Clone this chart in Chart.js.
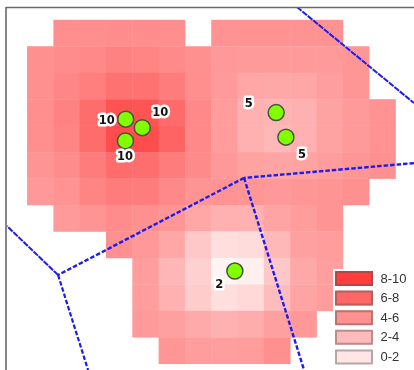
<!DOCTYPE html>
<html><head><meta charset="utf-8">
<style>html,body{margin:0;padding:0;background:#fff}#w{width:414px;height:370px;position:relative}</style>
<script src="https://cdn.jsdelivr.net/npm/chart.js@4/dist/chart.umd.min.js"></script>
</head><body><div id="w"><canvas id="c" width="414" height="370"></canvas></div>
<script>
// Grid density values (0-10), one row per list, null = no data. Columns 0..13.
const _ = null;
const gridRows = [
 [_,5.1,5.1,5.2,5.2,5.1,_,4.95,4.95,4.95,4.95,4.95,_,_],
 [5.05,5.24,5.43,5.71,5.62,5.33,5.05,4.67,4.57,4.57,4.57,4.57,4.76,_],
 [5.05,5.52,5.9,6.48,6.48,6.0,5.14,4.57,4.0,3.9,4.0,4.38,4.76,_],
 [5.14,5.71,6.76,8.0,7.9,6.86,5.43,4.48,3.5,3.33,3.5,4.19,4.57,4.95],
 [5.14,5.62,6.76,8.29,8.29,7.14,5.43,4.48,3.5,3.14,3.5,4.19,4.57,4.95],
 [4.86,5.24,6.0,6.76,6.67,6.0,5.33,4.67,4.19,4.1,4.19,4.48,4.76,5.05],
 [4.67,4.95,5.62,6.0,6.0,5.43,4.86,4.95,4.76,4.67,4.76,4.86,5.05,_],
 [_,4.57,4.86,5.24,5.05,4.76,4.0,3.5,3.5,4.1,4.48,4.86,_,_],
 [_,_,_,5.05,4.67,4.0,2.38,1.33,1.43,3.14,4.29,4.48,_,_],
 [_,_,_,_,4.48,3.24,2.0,0.29,0.48,2.38,3.9,4.38,_,_],
 [_,_,_,_,4.48,3.5,2.19,1.33,1.6,2.95,4.1,4.48,_,_],
 [_,_,_,_,4.57,4.29,3.8,3.5,3.7,4.29,4.67,_,_,_],
 [_,_,_,_,_,4.76,4.48,4.38,4.48,5.05,_,_,_,_]
];
// Sites and their labels, in grid units
const siteX = [3.74,4.37,3.73,9.46,9.83,7.89];
const siteY = [3.75,4.07,4.57,3.5,4.43,9.49];
const siteLabels = ['10','10','10','5','5','2'];
const labelX = [3.02,5.05,3.71,8.42,10.44,7.30];
const labelY = [3.81,3.53,5.19,3.18,5.10,10.02];
// Polygon edges, in grid units
const edgeA = [{x:10.25,y:-0.49},{x:14.70,y:3.14}];
const edgeB = [{x:14.70,y:5.41},{x:8.24,y:5.97}];
const edgeC = [{x:8.24,y:5.97},{x:1.17,y:9.64}];
const edgeD = [{x:8.24,y:5.97},{x:10.52,y:13.23}];
const edgeE = [{x:1.17,y:9.64},{x:-0.77,y:7.79}];
const edgeF = [{x:1.17,y:9.64},{x:2.31,y:13.23}];
const frameTop = [{x:-0.81,y:-0.47},{x:14.70,y:-0.47}];
const frameLeft = [{x:-0.81,y:-0.49},{x:-0.81,y:13.23}];
const legendLabels = ['8-10','6-8','4-6','2-4','0-2'];
const legendValues = [9,7,5,3,1];

const gridG = v => Math.round(250 - 21 * v);
const gridColor = v => `rgb(255,${gridG(v)},${gridG(v)})`;
const cells = [];
gridRows.forEach((row, r) => row.forEach((v, c) => { if (v !== null) cells.push({x:c+0.5, y:r+0.5, v}); }));
const edgeDs = (d, dash, w) => ({type:'line', data:d, borderColor:'#1c1cf0', borderWidth:w, borderDash:dash, pointRadius:0, fill:false, tension:0, order:2});
const frameDs = d => ({type:'line', data:d, borderColor:'#6a6a6a', borderWidth:1.6, pointRadius:0, fill:false, tension:0, clip:false, order:0});

const overlay = {
  id:'overlay',
  afterDatasetsDraw(ch){
    const {ctx, scales:{x,y}} = ch;
    ctx.save();
    ctx.fillStyle='#fff'; ctx.fillRect(333,269,81,101);
    ctx.font = 'bold 11.5px "DejaVu Sans"';
    ctx.textAlign='center'; ctx.textBaseline='middle'; ctx.lineJoin='round';
    siteLabels.forEach((t,i)=>{
      const px=x.getPixelForValue(labelX[i]), py=y.getPixelForValue(labelY[i]);
      ctx.strokeStyle='#fff'; ctx.lineWidth=5; ctx.strokeText(t,px,py);
      ctx.fillStyle='#111'; ctx.fillText(t,px,py);
    });
    ctx.font='13px "Liberation Sans"'; ctx.textAlign='left';
    legendLabels.forEach((t,i)=>{
      const yy=271+i*19.6;
      ctx.fillStyle=gridColor(legendValues[i]);
      ctx.fillRect(335,yy,38,15);
      ctx.strokeStyle='rgba(80,80,80,0.42)'; ctx.lineWidth=2;
      ctx.strokeRect(336,yy+1,36,13);
      ctx.fillStyle='#333'; ctx.fillText(t,380.5,yy+8);
    });
    ctx.restore();
  }
};

new Chart(document.getElementById('c'),{
  type:'scatter',
  data:{datasets:[
    {label:'sites',data:siteX.map((v,i)=>({x:v,y:siteY[i]})),pointRadius:8,pointHoverRadius:8,backgroundColor:'#80ff00',borderColor:'#4a5040',borderWidth:1.5,order:1},
    edgeDs(edgeA,[6,1],2),edgeDs(edgeB,[4.5,2],2.4),edgeDs(edgeC,[4.5,2],2.4),edgeDs(edgeD,[4.5,2],2.4),edgeDs(edgeE,[6,1],2),edgeDs(edgeF,[4.5,2],2.2),
    frameDs(frameTop),frameDs(frameLeft),
    {label:'grid',data:cells,pointStyle:'rect',borderWidth:0,
     pointRadius:ctx=>{const s=ctx.chart.scales.y;return (Math.abs(s.getPixelForValue(1)-s.getPixelForValue(0))+0.3)/Math.SQRT2;},
     backgroundColor:ctx=>gridColor(ctx.raw.v),order:3}
  ]},
  options:{
    responsive:false,animation:false,
    layout:{autoPadding:false,padding:{left:6,top:7,right:0,bottom:0}},
    plugins:{legend:{display:false},tooltip:{enabled:false}},
    scales:{
      x:{type:'linear',display:false,bounds:'data',min:-0.81,max:14.70},
      y:{type:'linear',display:false,bounds:'data',reverse:true,min:-0.49,max:13.23}
    }
  },
  plugins:[overlay]
});
</script></body></html>
